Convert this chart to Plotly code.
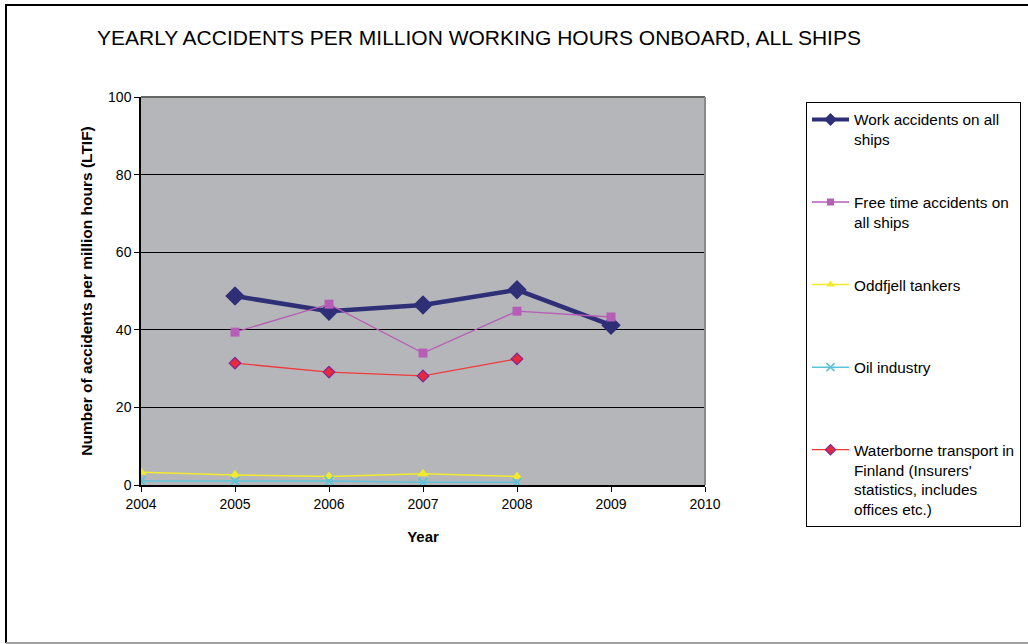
import plotly.graph_objects as go

work_years = [2005, 2006, 2007, 2008, 2009]
work_vals = [48.7, 44.8, 46.4, 50.3, 41.2]

free_years = [2005, 2006, 2007, 2008, 2009]
free_vals = [39.4, 46.6, 34.0, 44.8, 43.3]

odd_years = [2004, 2005, 2006, 2007, 2008]
odd_vals = [3.3, 2.6, 2.2, 2.9, 2.2]

oil_years = [2004, 2005, 2006, 2007, 2008]
oil_vals = [1.0, 1.0, 1.0, 0.7, 0.7]

fin_years = [2005, 2006, 2007, 2008]
fin_vals = [31.4, 29.1, 28.1, 32.5]

series_names = [
    "Work accidents on all<br>ships",
    "Free time accidents on<br>all ships",
    "Oddfjell tankers",
    "Oil industry",
    "Waterborne transport in<br>Finland (Insurers'<br>statistics, includes<br>offices etc.)",
]

x_ticks = [2004, 2005, 2006, 2007, 2008, 2009, 2010]
y_ticks = [0, 20, 40, 60, 80, 100]

FONT = "Liberation Sans, Arial, sans-serif"

# plot area in pixels
L, R, T, B = 141, 705, 97, 485
W, H = 1028, 644
def px(x):
    return (x - L) / (R - L)
def py(y):
    return (B - y) / (B - T)

def pad(text, n=4):
    lines = text.split("<br>")
    while len(lines) < n:
        lines.append(" ")
    return "<br>".join(lines)

styles = [
    dict(line=dict(color="#2F2F78", width=4.5),
         marker=dict(symbol="diamond", size=15, color="#2F2F78"),
         lmarker=dict(symbol="diamond", size=10, color="#2F2F78"),
         lline=dict(color="#2F2F78", width=4)),
    dict(line=dict(color="#B65EB6", width=1.3),
         marker=dict(symbol="square", size=9, color="#B65EB6"),
         lmarker=dict(symbol="square", size=7, color="#B65EB6"),
         lline=dict(color="#B65EB6", width=1.3)),
    dict(line=dict(color="#F2EA2C", width=1.5),
         marker=dict(symbol="triangle-up", size=10, color="#F2EA2C"),
         lmarker=dict(symbol="triangle-up", size=8, color="#F2EA2C"),
         lline=dict(color="#F2EA2C", width=1.5)),
    dict(line=dict(color="#5CC3D8", width=1.5),
         marker=dict(symbol="x-thin", size=9, color="#5CC3D8",
                     line=dict(color="#5CC3D8", width=1.8)),
         lmarker=dict(symbol="x-thin", size=8, color="#5CC3D8",
                      line=dict(color="#5CC3D8", width=1.6)),
         lline=dict(color="#5CC3D8", width=1.5)),
    dict(line=dict(color="#F03A3A", width=1.3),
         marker=dict(symbol="diamond", size=9, color="#E8283C",
                     line=dict(color="#7A2A9A", width=1.2)),
         lmarker=dict(symbol="diamond", size=8, color="#E8283C",
                      line=dict(color="#7A2A9A", width=1.2)),
         lline=dict(color="#F03A3A", width=1.3)),
]

data = [(work_years, work_vals), (free_years, free_vals), (odd_years, odd_vals),
        (oil_years, oil_vals), (fin_years, fin_vals)]

fig = go.Figure()
for (xs, ys), st, nm in zip(data, styles, series_names):
    fig.add_trace(go.Scatter(
        x=xs, y=ys, mode="lines+markers", name=nm.replace("<br>", " "),
        showlegend=False, line=st["line"], marker=st["marker"],
    ))
for i, (st, nm) in enumerate(zip(styles, series_names)):
    fig.add_trace(go.Scatter(
        x=[None], y=[None], mode="lines+markers", name=pad(nm),
        legendgroup="g%d" % i, showlegend=True,
        line=st["lline"], marker=st["lmarker"], hoverinfo="skip",
    ))

shapes = [
    dict(type="line", xref="paper", yref="paper", x0=0, x1=1, y0=1, y1=1,
         line=dict(color="#666666", width=2)),
    dict(type="line", xref="paper", yref="paper", x0=1, x1=1, y0=0, y1=1,
         line=dict(color="#8A8A8A", width=2)),
    dict(type="line", xref="paper", yref="paper", x0=px(5), x1=px(1040),
         y0=py(5), y1=py(5), line=dict(color="black", width=2)),
    dict(type="line", xref="paper", yref="paper", x0=px(6), x1=px(6),
         y0=py(5), y1=py(643), line=dict(color="black", width=2)),
    dict(type="line", xref="paper", yref="paper", x0=px(6), x1=px(1040),
         y0=py(643), y1=py(643), line=dict(color="#A0A0A0", width=2)),
]

fig.update_layout(
    width=W, height=H,
    margin=dict(l=L, r=W - R, t=T, b=H - B, pad=0, autoexpand=False),
    paper_bgcolor="white",
    plot_bgcolor="#B5B6BA",
    font=dict(family=FONT, size=14, color="black"),
    showlegend=True,
    legend=dict(
        x=px(806), y=py(102), xanchor="left", yanchor="top",
        bordercolor="black", borderwidth=1, bgcolor="white",
        font=dict(family=FONT, size=15.3, color="black"),
        valign="top", tracegroupgap=0, itemwidth=37, maxheight=600,
    ),
    shapes=shapes,
    annotations=[
        dict(text="YEARLY ACCIDENTS PER MILLION WORKING HOURS ONBOARD, ALL SHIPS",
             xref="paper", yref="paper", x=px(479), y=py(37),
             xanchor="center", yanchor="middle", showarrow=False,
             font=dict(family=FONT, size=21, color="black")),
    ],
)

fig.update_xaxes(
    range=[2004, 2010], tickvals=x_ticks, ticktext=[str(v) for v in x_ticks],
    showgrid=False, zeroline=False,
    showline=True, linecolor="black", linewidth=1.5,
    ticks="outside", ticklen=5, tickcolor="black", tickwidth=1,
    tickfont=dict(family=FONT, size=14),
    title=dict(text="<b>Year</b>", font=dict(family=FONT, size=15), standoff=21),
)
fig.update_yaxes(
    range=[0, 100], tickvals=y_ticks,
    showgrid=True, gridcolor="black", gridwidth=1,
    zeroline=False,
    showline=True, linecolor="black", linewidth=1.5,
    ticks="outside", ticklen=5, tickcolor="black", tickwidth=1,
    tickfont=dict(family=FONT, size=14),
    title=dict(text="<b>Number of accidents per million hours (LTIF)</b>",
               font=dict(family=FONT, size=15.5), standoff=12),
)

fig.write_html("out.html")
